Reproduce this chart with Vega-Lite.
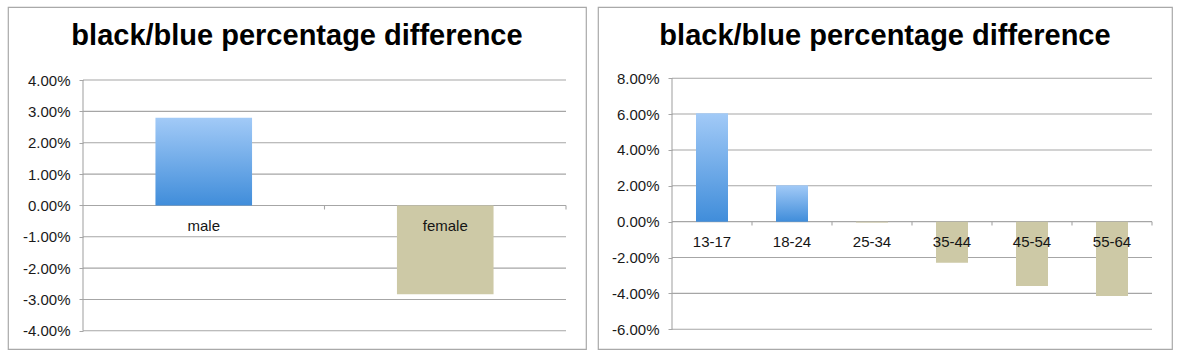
{
  "$schema": "https://vega.github.io/schema/vega-lite/v6.json",
  "padding": {"left": 7, "top": 6, "right": 0, "bottom": 0},
  "spacing": 10,
  "background": "white",
  "config": {
    "font": "Liberation Sans",
    "view": {"stroke": "#a9a9a9", "strokeWidth": 1.2},
    "locale": {"number": {"decimal": ".", "thousands": ",", "grouping": [3], "currency": ["$", ""], "minus": "-"}},
    "axis": {"grid": false, "title": null, "domain": false, "labelFont": "Liberation Sans"},
    "title": {"frame": "group", "offset": -44, "baseline": "alphabetic", "fontSize": 29, "fontWeight": "bold", "color": "#000000", "anchor": "middle", "font": "Liberation Sans"}
  },
  "datasets": {
    "gender": [
      {"gender": "male", "value": 0.028},
      {"gender": "female", "value": -0.0283}
    ],
    "age": [
      {"age": "13-17", "value": 0.0605},
      {"age": "18-24", "value": 0.0203},
      {"age": "25-34", "value": -0.0005},
      {"age": "35-44", "value": -0.0229},
      {"age": "45-54", "value": -0.0359},
      {"age": "55-64", "value": -0.0415}
    ],
    "gridL": [{"tick": -0.04}, {"tick": -0.03}, {"tick": -0.02}, {"tick": -0.01}, {"tick": 0}, {"tick": 0.01}, {"tick": 0.02}, {"tick": 0.03}, {"tick": 0.04}],
    "gridR": [{"tick": -0.06}, {"tick": -0.04}, {"tick": -0.02}, {"tick": 0}, {"tick": 0.02}, {"tick": 0.04}, {"tick": 0.06}, {"tick": 0.08}]
  },
  "hconcat": [
    {
      "width": 578,
      "height": 342,
      "title": {"text": "black/blue percentage difference"},
      "resolve": {"scale": {"x": "independent"}},
      "layer": [
        {
          "data": {"name": "gridL"},
          "mark": {"type": "rule", "color": "#a6a6a6", "strokeWidth": 1.1},
          "encoding": {
            "y": {"field": "tick", "type": "quantitative",
              "scale": {"domain": [-0.0458, 0.0633], "nice": false, "zero": false},
              "axis": {"values": [-0.04, -0.03, -0.02, -0.01, 0, 0.01, 0.02, 0.03, 0.04], "format": ".2%", "offset": -75, "tickSize": 4, "tickColor": "#a6a6a6", "labelFontSize": 15, "labelColor": "#1a1a1a", "labelPadding": 9}},
            "x": {"datum": 0, "type": "quantitative", "scale": {"domain": [0, 1], "range": [75, 558]}, "axis": null},
            "x2": {"datum": 1}
          }
        },
        {
          "data": {"values": [{}]},
          "mark": {"type": "rule", "color": "#a6a6a6", "strokeWidth": 1.1},
          "encoding": {
            "x": {"datum": 0, "type": "quantitative", "scale": {"domain": [0, 1], "range": [75, 558]}, "axis": null},
            "y": {"datum": 0.04, "type": "quantitative"},
            "y2": {"datum": -0.04}
          }
        },
        {
          "data": {"name": "gender"},
          "mark": {"type": "rule", "color": "#a6a6a6", "strokeWidth": 1.1},
          "encoding": {
            "x": {"field": "gender", "type": "nominal", "bandPosition": 1.75, "scale": {"domain": ["male", "female"], "range": [75, 558], "paddingInner": 0.6, "paddingOuter": 0.3}, "axis": null},
            "y": {"datum": 0, "type": "quantitative"},
            "y2": {"datum": -0.0013}
          }
        },
        {
          "data": {"name": "gender"},
          "mark": {"type": "bar"},
          "encoding": {
            "x": {"field": "gender", "type": "nominal", "scale": {"domain": ["male", "female"], "range": [75, 558], "paddingInner": 0.6, "paddingOuter": 0.3}, "axis": null},
            "y": {"field": "value", "type": "quantitative"},
            "color": {
              "condition": {"test": "datum.value > 0", "value": {"gradient": "linear", "x1": 0, "y1": 0, "x2": 0, "y2": 1, "stops": [{"offset": 0, "color": "#a2caf7"}, {"offset": 1, "color": "#408dda"}]}},
              "value": "#cdc9a6"
            }
          }
        },
        {
          "data": {"name": "gender"},
          "mark": {"type": "text", "dy": 25.5, "baseline": "alphabetic", "fontSize": 15, "color": "#151515", "font": "Liberation Sans"},
          "encoding": {
            "x": {"field": "gender", "type": "nominal", "scale": {"domain": ["male", "female"], "range": [75, 558], "paddingInner": 0.6, "paddingOuter": 0.3}, "axis": null},
            "y": {"datum": 0, "type": "quantitative"},
            "text": {"field": "gender"}
          }
        }
      ]
    },
    {
      "width": 574,
      "height": 342,
      "title": {"text": "black/blue percentage difference"},
      "resolve": {"scale": {"x": "independent"}},
      "layer": [
        {
          "data": {"name": "gridR"},
          "mark": {"type": "rule", "color": "#a6a6a6", "strokeWidth": 1.1},
          "encoding": {
            "y": {"field": "tick", "type": "quantitative",
              "scale": {"domain": [-0.0710, 0.1197], "nice": false, "zero": false},
              "axis": {"values": [-0.06, -0.04, -0.02, 0, 0.02, 0.04, 0.06, 0.08], "format": ".2%", "offset": -74, "tickSize": 4, "tickColor": "#a6a6a6", "labelFontSize": 15, "labelColor": "#1a1a1a", "labelPadding": 9}},
            "x": {"datum": 0, "type": "quantitative", "scale": {"domain": [0, 1], "range": [74, 554]}, "axis": null},
            "x2": {"datum": 1}
          }
        },
        {
          "data": {"values": [{}]},
          "mark": {"type": "rule", "color": "#a6a6a6", "strokeWidth": 1.1},
          "encoding": {
            "x": {"datum": 0, "type": "quantitative", "scale": {"domain": [0, 1], "range": [74, 554]}, "axis": null},
            "y": {"datum": 0.08, "type": "quantitative"},
            "y2": {"datum": -0.06}
          }
        },
        {
          "data": {"name": "age"},
          "mark": {"type": "rule", "color": "#a6a6a6", "strokeWidth": 1.1},
          "encoding": {
            "x": {"field": "age", "type": "nominal", "bandPosition": 1.75, "scale": {"domain": ["13-17", "18-24", "25-34", "35-44", "45-54", "55-64"], "range": [74, 554], "paddingInner": 0.6, "paddingOuter": 0.3}, "axis": null},
            "y": {"datum": 0, "type": "quantitative"},
            "y2": {"datum": -0.0022}
          }
        },
        {
          "data": {"name": "age"},
          "mark": {"type": "bar"},
          "encoding": {
            "x": {"field": "age", "type": "nominal", "scale": {"domain": ["13-17", "18-24", "25-34", "35-44", "45-54", "55-64"], "range": [74, 554], "paddingInner": 0.6, "paddingOuter": 0.3}, "axis": null},
            "y": {"field": "value", "type": "quantitative"},
            "color": {
              "condition": {"test": "datum.value > 0", "value": {"gradient": "linear", "x1": 0, "y1": 0, "x2": 0, "y2": 1, "stops": [{"offset": 0, "color": "#a2caf7"}, {"offset": 1, "color": "#408dda"}]}},
              "value": "#cdc9a6"
            }
          }
        },
        {
          "data": {"name": "age"},
          "mark": {"type": "text", "dy": 25.5, "baseline": "alphabetic", "fontSize": 15, "color": "#151515", "font": "Liberation Sans"},
          "encoding": {
            "x": {"field": "age", "type": "nominal", "scale": {"domain": ["13-17", "18-24", "25-34", "35-44", "45-54", "55-64"], "range": [74, 554], "paddingInner": 0.6, "paddingOuter": 0.3}, "axis": null},
            "y": {"datum": 0, "type": "quantitative"},
            "text": {"field": "age"}
          }
        }
      ]
    }
  ]
}
